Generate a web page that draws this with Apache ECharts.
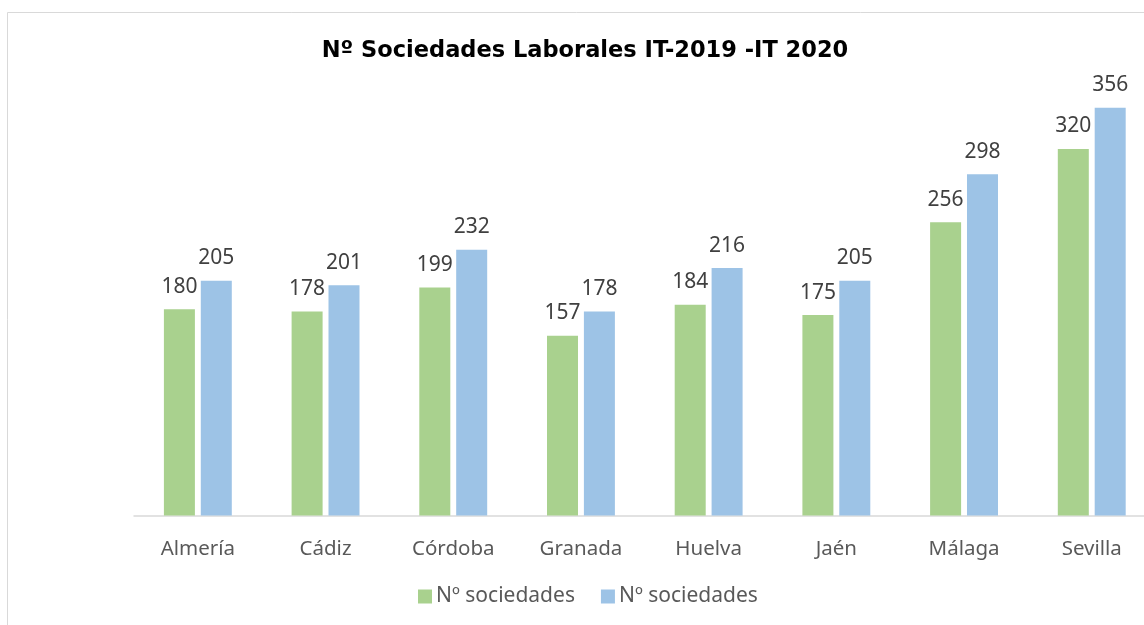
<!DOCTYPE html>
<html>
<head>
<meta charset="utf-8">
<script src="https://cdn.jsdelivr.net/npm/echarts@6/dist/echarts.min.js"></script>
<style>
html,body{margin:0;padding:0;background:#fff;}
#chart{width:1144px;height:625px;}
</style>
</head>
<body>
<div id="chart"></div>
<script>
const titleText = 'Nº Sociedades Laborales IT-2019 -IT 2020';
const categories = ['Almería', 'Cádiz', 'Córdoba', 'Granada', 'Huelva', 'Jaén', 'Málaga', 'Sevilla'];
const seriesNames = ['Nº sociedades', 'Nº sociedades'];
const values2019 = [180, 178, 199, 157, 184, 175, 256, 320];
const values2020 = [205, 201, 232, 178, 216, 205, 298, 356];

const chart = echarts.init(document.getElementById('chart'), null, {renderer: 'canvas'});
const labelStyle = {
  show: true,
  position: 'top',
  distance: 12,
  color: '#404040',
  fontFamily: 'Noto Sans',
  fontSize: 21
};
chart.setOption({
  animation: false,
  backgroundColor: '#ffffff',
  graphic: [{
    type: 'rect',
    shape: {x: 7.5, y: 12.5, width: 2000, height: 2000},
    style: {fill: 'none', stroke: '#d9d9d9', lineWidth: 1},
    silent: true
  }],
  title: {
    text: titleText,
    left: 580,
    top: 35,
    textAlign: 'center',
    textStyle: {fontFamily: 'DejaVu Sans', fontWeight: 'bold', fontSize: 22.5, color: '#000000'}
  },
  legend: {
    bottom: 13,
    left: 413,
    itemWidth: 14,
    itemHeight: 14,
    itemGap: 26,
    icon: 'rect',
    textStyle: {fontFamily: 'Noto Sans', fontSize: 21, color: '#595959', padding: [0, 0, 0, -1]},
    data: [
      {name: 'a', icon: 'rect'},
      {name: 'b', icon: 'rect'}
    ],
    formatter: function (n) { return n === 'a' ? seriesNames[0] : seriesNames[1]; }
  },
  grid: {left: 134, top: 57.3, width: 1021.6, height: 458.2, containLabel: false, outerBoundsMode: 'none'},
  xAxis: {
    type: 'category',
    data: categories,
    axisLine: {show: true, lineStyle: {color: '#d9d9d9', width: 1.5}},
    axisTick: {show: false},
    axisLabel: {color: '#595959', fontFamily: 'Noto Sans', fontSize: 20.5, margin: 23}
  },
  yAxis: {
    type: 'value',
    min: 0,
    max: 400,
    show: false,
    splitLine: {show: false}
  },
  series: [
    {
      name: 'a',
      type: 'bar',
      data: values2019,
      barWidth: 31,
      barGap: '19%',
      itemStyle: {color: '#A9D18E'},
      label: labelStyle
    },
    {
      name: 'b',
      type: 'bar',
      data: values2020,
      barWidth: 31,
      itemStyle: {color: '#9DC3E6'},
      label: labelStyle
    }
  ]
});
</script>
</body>
</html>
